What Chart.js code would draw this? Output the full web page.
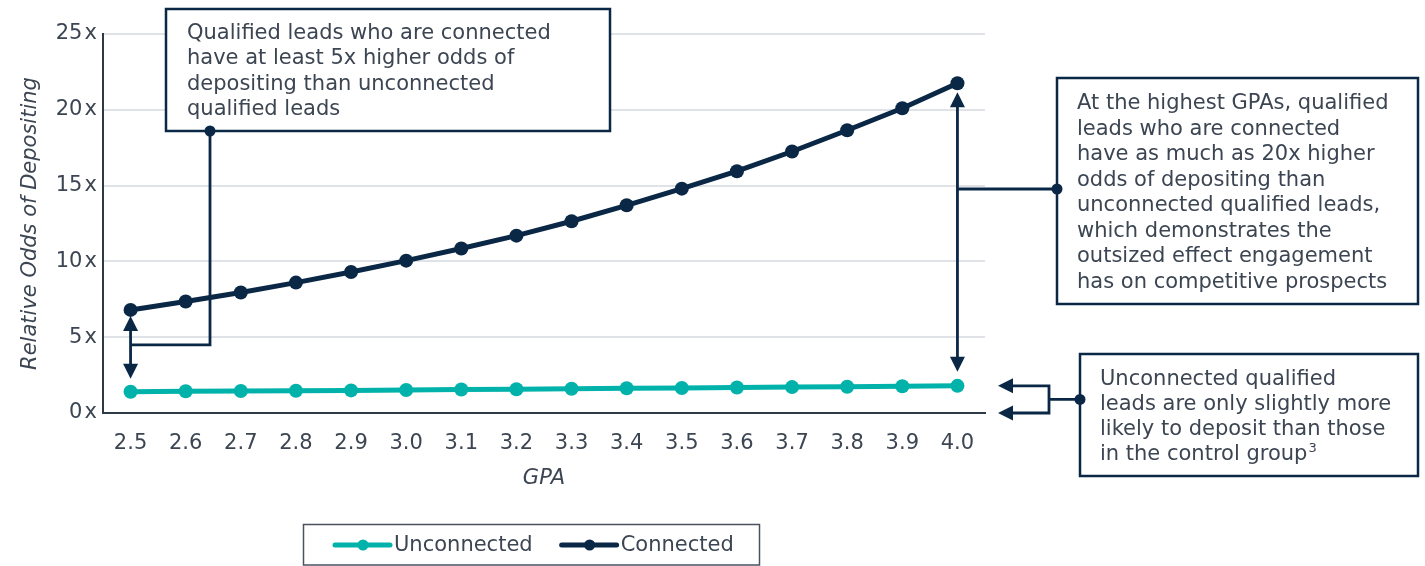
<!DOCTYPE html>
<html>
<head>
<meta charset="utf-8">
<title>Relative Odds of Depositing by GPA</title>
<script src="https://cdn.jsdelivr.net/npm/chart.js@4.4.0/dist/chart.umd.min.js"></script>
<style>
  html, body { margin: 0; padding: 0; background: #fff; }
  #wrap { width: 1425px; height: 566px; position: relative; }
</style>
</head>
<body>
<div id="wrap"><canvas id="oddsChart"></canvas></div>
<script>
const gpaLabels = ['2.5', '2.6', '2.7', '2.8', '2.9', '3.0', '3.1', '3.2', '3.3', '3.4', '3.5', '3.6', '3.7', '3.8', '3.9', '4.0'];
const unconnectedOdds = [1.40, 1.43, 1.45, 1.47, 1.49, 1.52, 1.55, 1.57, 1.60, 1.63, 1.65, 1.68, 1.71, 1.73, 1.76, 1.79];
const connectedOdds = [6.80, 7.35, 7.95, 8.60, 9.30, 10.05, 10.85, 11.70, 12.65, 13.70, 14.80, 15.95, 17.25, 18.65, 20.10, 21.75];
const yMax = 25;
const yStep = 5;

const NAVY = '#0a2846';
const TEAL = '#00b2a9';
const TEXT = '#3c4552';
const AXIS = '#2e3a47';
const FONT = '"DejaVu Sans", Verdana, sans-serif';

const noteLeft = [
  'Qualified leads who are connected',
  'have at least 5x higher odds of',
  'depositing than unconnected',
  'qualified leads'
];
const noteRight = [
  'At the highest GPAs, qualified',
  'leads who are connected',
  'have as much as 20x higher',
  'odds of depositing than',
  'unconnected qualified leads,',
  'which demonstrates the',
  'outsized effect engagement',
  'has on competitive prospects'
];
const noteBottom = [
  'Unconnected qualified',
  'leads are only slightly more',
  'likely to deposit than those',
  'in the control group'
];

function drawBox(ctx, x, y, w, h) {
  ctx.save();
  ctx.fillStyle = '#fff';
  ctx.fillRect(x, y, w, h);
  ctx.lineWidth = 2.5;
  ctx.strokeStyle = NAVY;
  ctx.strokeRect(x, y, w, h);
  ctx.restore();
}

function drawLines(ctx, lines, x, baseline, step) {
  ctx.save();
  ctx.fillStyle = TEXT;
  ctx.font = '21px ' + FONT;
  ctx.textAlign = 'left';
  ctx.textBaseline = 'alphabetic';
  lines.forEach((t, i) => ctx.fillText(t, x, baseline + i * step));
  ctx.restore();
}

function dot(ctx, x, y, r) {
  ctx.beginPath();
  ctx.arc(x, y, r, 0, Math.PI * 2);
  ctx.fill();
}

// filled triangle with its tip at (x, y); dir is the direction it points
function arrowHead(ctx, x, y, dir) {
  const len = 15, half = 7.5;
  ctx.beginPath();
  if (dir === 'up') {
    ctx.moveTo(x, y); ctx.lineTo(x - half, y + len); ctx.lineTo(x + half, y + len);
  } else if (dir === 'down') {
    ctx.moveTo(x, y); ctx.lineTo(x - half, y - len); ctx.lineTo(x + half, y - len);
  } else {
    ctx.moveTo(x, y); ctx.lineTo(x + len, y - half); ctx.lineTo(x + len, y + half);
  }
  ctx.closePath();
  ctx.fill();
}

function doubleArrow(ctx, x, top, bottom) {
  ctx.beginPath();
  ctx.moveTo(x, top + 10);
  ctx.lineTo(x, bottom - 10);
  ctx.stroke();
  arrowHead(ctx, x, top, 'up');
  arrowHead(ctx, x, bottom, 'down');
}

const callouts = {
  id: 'callouts',
  afterDatasetsDraw(chart) {
    const { ctx, scales: { x, y } } = chart;
    const first = 0;
    const last = gpaLabels.length - 1;
    const xFirst = x.getPixelForValue(first);
    const xLast = x.getPixelForValue(last);

    ctx.save();
    ctx.strokeStyle = NAVY;
    ctx.fillStyle = NAVY;
    ctx.lineWidth = 2.8;

    // gap at the lowest GPA
    doubleArrow(ctx, xFirst,
      y.getPixelForValue(connectedOdds[first]) + 6,
      y.getPixelForValue(unconnectedOdds[first]) - 13);
    const elbowY = y.getPixelForValue(4.5);
    const stemX = 210;
    ctx.beginPath();
    ctx.moveTo(xFirst, elbowY);
    ctx.lineTo(stemX, elbowY);
    ctx.lineTo(stemX, 131);
    ctx.stroke();
    drawBox(ctx, 166, 9, 444, 122);
    dot(ctx, stemX, 131, 5.5);
    drawLines(ctx, noteLeft, 187, 39, 25.3);

    // gap at the highest GPA
    doubleArrow(ctx, xLast,
      y.getPixelForValue(connectedOdds[last]) + 9,
      y.getPixelForValue(unconnectedOdds[last]) - 14);
    const rightLinkY = 189;
    ctx.beginPath();
    ctx.moveTo(xLast, rightLinkY);
    ctx.lineTo(1057, rightLinkY);
    ctx.stroke();
    drawBox(ctx, 1057, 78, 361, 226);
    dot(ctx, 1057, rightLinkY, 5.5);
    drawLines(ctx, noteRight, 1077, 109, 25.5);

    // bracket pointing at unconnected value and baseline
    const yU = y.getPixelForValue(unconnectedOdds[last]);
    const yZero = y.getPixelForValue(0);
    const barX = 1049, tipX = 998;
    ctx.beginPath();
    ctx.moveTo(tipX + 10, yU); ctx.lineTo(barX, yU); ctx.lineTo(barX, yZero); ctx.lineTo(tipX + 10, yZero);
    ctx.moveTo(barX, (yU + yZero) / 2); ctx.lineTo(1080, (yU + yZero) / 2);
    ctx.stroke();
    arrowHead(ctx, tipX, yU, 'left');
    arrowHead(ctx, tipX, yZero, 'left');
    drawBox(ctx, 1080, 354, 338, 122);
    dot(ctx, 1080, (yU + yZero) / 2, 5.5);
    drawLines(ctx, noteBottom, 1100, 385, 25);
    ctx.font = '21px ' + FONT;
    const w = ctx.measureText(noteBottom[3]).width;
    ctx.fillStyle = TEXT;
    ctx.font = '13px ' + FONT;
    ctx.fillText('3', 1100 + w + 1, 385 + 3 * 25 - 8);
    ctx.restore();
  }
};

const boxedLegend = {
  id: 'boxedLegend',
  afterDraw(chart) {
    const { ctx } = chart;
    ctx.save();
    ctx.strokeStyle = '#4a5260';
    ctx.lineWidth = 1.5;
    ctx.strokeRect(303.5, 524.5, 456, 40.5);
    ctx.font = '21px ' + FONT;
    ctx.textBaseline = 'middle';
    const cy = 545;
    let cx = 335;
    chart.data.datasets.forEach(ds => {
      ctx.strokeStyle = ds.borderColor;
      ctx.fillStyle = ds.borderColor;
      ctx.lineWidth = 5;
      ctx.lineCap = 'round';
      ctx.beginPath();
      ctx.moveTo(cx, cy);
      ctx.lineTo(cx + 55, cy);
      ctx.stroke();
      dot(ctx, cx + 28, cy, 5.5);
      ctx.fillStyle = TEXT;
      ctx.fillText(ds.label, cx + 59, cy + 1);
      cx += 59 + ctx.measureText(ds.label).width + 29;
    });
    ctx.restore();
  }
};

const ctx = document.getElementById('oddsChart').getContext('2d');
new Chart(ctx, {
  type: 'line',
  data: {
    labels: gpaLabels,
    datasets: [{
      label: 'Unconnected',
      data: unconnectedOdds,
      borderColor: TEAL,
      backgroundColor: TEAL,
      pointBackgroundColor: TEAL,
      borderWidth: 5,
      pointRadius: 7,
      pointHoverRadius: 7,
      pointBorderWidth: 0,
      tension: 0
    }, {
      label: 'Connected',
      data: connectedOdds,
      borderColor: NAVY,
      backgroundColor: NAVY,
      pointBackgroundColor: NAVY,
      borderWidth: 5,
      pointRadius: 7,
      pointHoverRadius: 7,
      pointBorderWidth: 0,
      tension: 0
    }]
  },
  options: {
    responsive: true,
    maintainAspectRatio: false,
    animation: false,
    layout: { padding: { top: 34, right: 440, bottom: 73, left: 0 } },
    plugins: {
      legend: { display: false },
      tooltip: { enabled: false }
    },
    scales: {
      x: {
        offset: true,
        grid: { display: false },
        border: { display: true, color: AXIS, width: 2 },
        ticks: { color: TEXT, font: { family: FONT, size: 21 }, padding: 10, maxRotation: 0 },
        title: { display: true, text: 'GPA', color: TEXT, font: { family: FONT, size: 21, style: 'italic' }, padding: { top: 0, bottom: 2 } },
        afterFit(scale) { scale.height = 80; }
      },
      y: {
        min: 0,
        max: yMax,
        ticks: {
          stepSize: yStep,
          color: TEXT,
          font: { family: FONT, size: 21 },
          padding: 6,
          callback: v => v + '\u200Ax'
        },
        grid: {
          drawTicks: false,
          lineWidth: 2,
          color: c => c.tick && c.tick.value === 0 ? 'rgba(0,0,0,0)' : '#dfe3e8'
        },
        border: { display: true, color: AXIS, width: 2 },
        title: { display: true, text: 'Relative Odds of Depositing', color: TEXT, font: { family: FONT, size: 21, style: 'italic' }, padding: { top: 18, bottom: 0 } },
        afterFit(scale) { scale.width = 103; }
      }
    }
  },
  plugins: [callouts, boxedLegend]
});
</script>
</body>
</html>
